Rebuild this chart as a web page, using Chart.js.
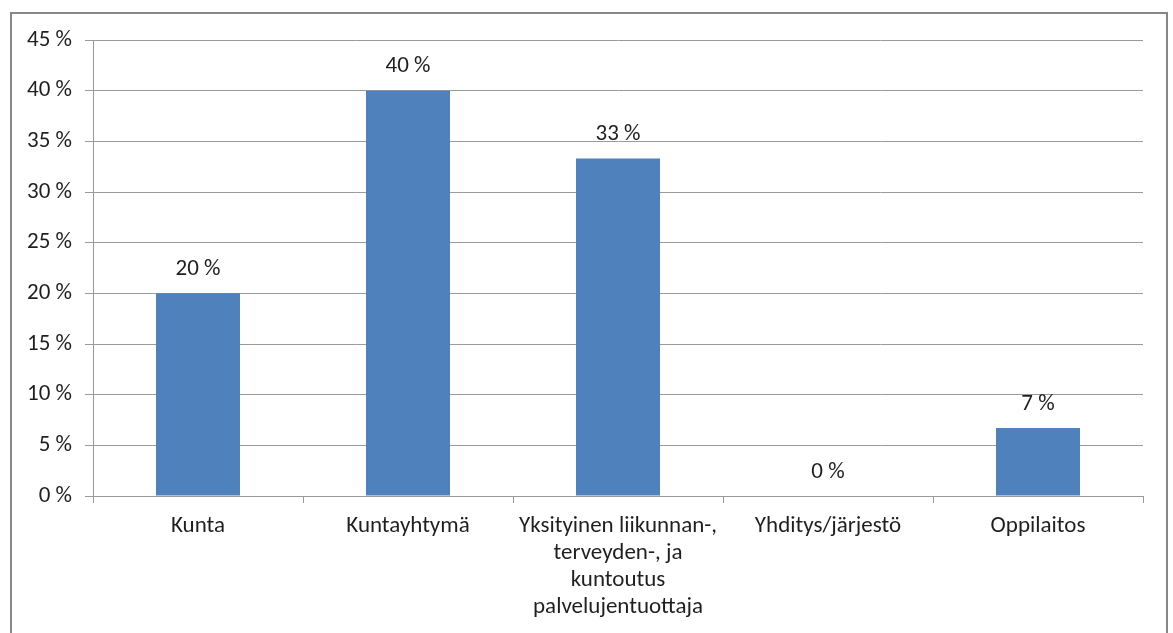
<!DOCTYPE html>
<html>
<head>
<meta charset="utf-8">
<script src="https://cdn.jsdelivr.net/npm/chart.js@4/dist/chart.umd.min.js"></script>
<style>
  html, body { margin: 0; padding: 0; background: #ffffff; overflow: hidden; }
  #frame { position: absolute; left: 10px; top: 12px; width: 1154px; height: 700px; border: 2px solid #878787; }
  #c { position: absolute; left: 0; top: 0; }
</style>
</head>
<body>
<div id="frame"></div>
<canvas id="c" width="1173" height="633"></canvas>
<script>
const categories = [
  ["Kunta"],
  ["Kuntayhtymä"],
  ["Yksityinen liikunnan-,", "terveyden-, ja", "kuntoutus", "palvelujentuottaja"],
  ["Yhditys/järjestö"],
  ["Oppilaitos"]
];
const values = [20, 40, 33.3, 0, 6.7];
const yTicks = [0, 5, 10, 15, 20, 25, 30, 35, 40, 45];

const FONT = "Carlito, Lato, sans-serif";
const TEXT = "#1f1f1f";
const GRID = "#9a9a9a";

const dataLabels = {
  id: 'dataLabels',
  afterDatasetsDraw(chart) {
    const ctx = chart.ctx;
    const meta = chart.getDatasetMeta(0);
    ctx.save();
    ctx.font = "23px " + FONT;
    ctx.fillStyle = TEXT;
    ctx.textAlign = 'center';
    ctx.textBaseline = 'middle';
    meta.data.forEach((bar, i) => {
      ctx.fillText(Math.round(values[i]) + ' %', bar.x, bar.y - 24);
    });
    ctx.restore();
  }
};

new Chart(document.getElementById('c'), {
  type: 'bar',
  data: {
    labels: categories,
    datasets: [{
      data: values,
      backgroundColor: '#4f81bd',
      borderWidth: 0,
      categoryPercentage: 1.0,
      barPercentage: 0.4
    }]
  },
  options: {
    responsive: false,
    animation: false,
    devicePixelRatio: 1,
    layout: { padding: { left: 0, top: 40, right: 30, bottom: 0 } },
    plugins: { legend: { display: false }, tooltip: { enabled: false } },
    scales: {
      x: {
        afterFit(scale) { scale.height = 137; },
        grid: { offset: true, drawOnChartArea: false, drawTicks: true, tickLength: 7, color: GRID },
        border: { display: true, color: GRID, width: 1 },
        ticks: {
          autoSkip: false, maxRotation: 0, minRotation: 0, padding: 10,
          color: TEXT, font: { family: FONT, size: 23, lineHeight: 1.17 }
        }
      },
      y: {
        min: 0, max: 45,
        afterFit(scale) { scale.width = 93; },
        afterBuildTicks(scale) { scale.ticks = yTicks.map(v => ({ value: v })); },
        grid: { color: GRID, tickLength: 8, drawTicks: true },
        border: { display: true, color: GRID, width: 1 },
        ticks: {
          padding: 13, color: TEXT,
          font: { family: FONT, size: 23 },
          callback: v => v + ' %'
        }
      }
    }
  },
  plugins: [dataLabels]
});
</script>
</body>
</html>
